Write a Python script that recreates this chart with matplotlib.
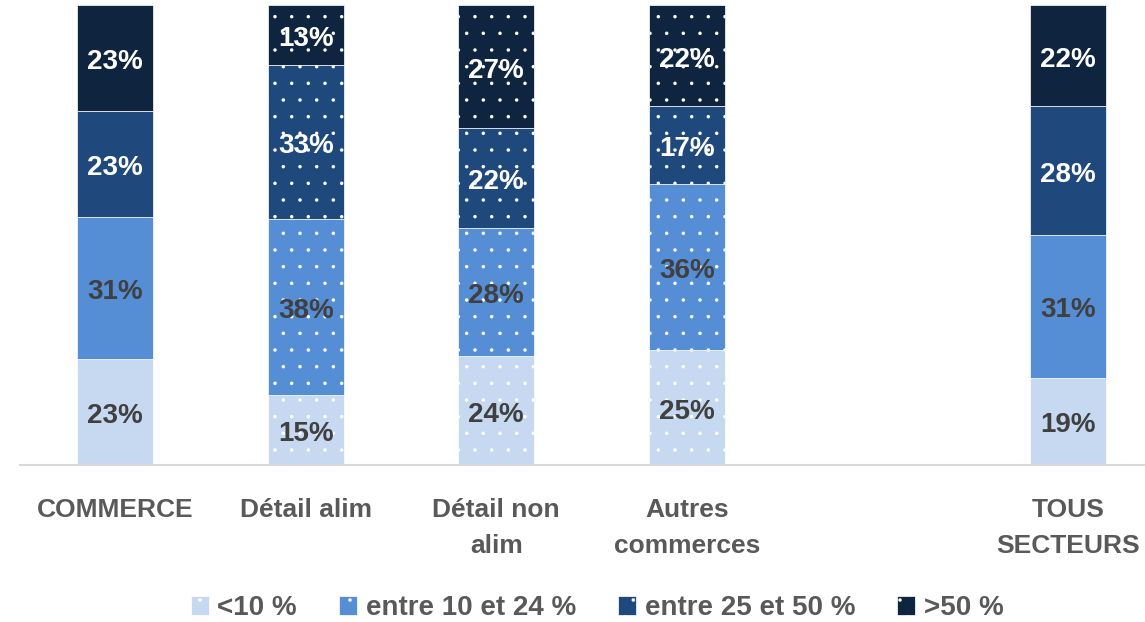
import matplotlib.pyplot as plt
import numpy as np
from matplotlib.patches import Patch

# Data
categories = ["COMMERCE", "Détail alim", "Détail non\nalim", "Autres\ncommerces", "", "TOUS\nSECTEURS"]
series_names = ["<10 %", "entre 10 et 24 %", "entre 25 et 50 %", ">50 %"]
lt10 = [23, 15, 24, 25, None, 19]
b10_24 = [31, 38, 28, 36, None, 31]
b25_50 = [23, 33, 22, 17, None, 28]
gt50 = [23, 13, 27, 22, None, 22]
dotted = [False, True, True, True, False, False]

colors = ["#C6D9F1", "#558ED5", "#1F497D", "#0F243E"]
label_colors = ["#404040", "#404040", "white", "white"]
FONT = "Liberation Sans"

plt.rcParams["font.family"] = [FONT, "DejaVu Sans"]
plt.rcParams["hatch.linewidth"] = 0.1

fig = plt.figure(figsize=(11.45, 6.22), dpi=100)
ax = fig.add_axes([20 / 1145, 157 / 622, 1143 / 1145, 460 / 622])

series = [lt10, b10_24, b25_50, gt50]
x = np.arange(len(categories))
width = 0.4

for i in range(len(categories)):
    vals = [s[i] for s in series]
    if vals[0] is None:
        continue
    total = sum(vals)
    bottom = 0.0
    for j, v in enumerate(vals):
        h = v / total * 100
        ax.bar(x[i], h, width, bottom=bottom, color=colors[j],
               edgecolor="white", linewidth=0.5,
               hatch="." if dotted[i] else None)
        ax.annotate(f"{v}%", (x[i], bottom + h / 2), xytext=(0, -3),
                    textcoords="offset points", ha="center", va="center",
                    fontsize=20, fontweight="bold", color=label_colors[j])
        bottom += h

ax.set_xlim(-0.5, 5.5)
ax.set_ylim(0, 100)
ax.set_yticks([])
ax.set_xticks(x)
ax.set_xticklabels(categories, fontsize=19, fontweight="bold", color="#595959",
                   linespacing=1.6)
ax.tick_params(axis="x", length=0, pad=24)
for s in ["top", "right", "left"]:
    ax.spines[s].set_visible(False)
ax.spines["bottom"].set_color("#D9D9D9")
ax.spines["bottom"].set_linewidth(1.5)

handles = [Patch(facecolor=colors[j], edgecolor="white", linewidth=0.5, hatch=".")
           for j in range(4)]
leg = fig.legend(handles, series_names, loc="center", bbox_to_anchor=(597 / 1145, 0.022),
                 ncol=4, frameon=False, handlelength=0.65, handleheight=0.65,
                 handletextpad=0.32, columnspacing=1.5,
                 prop={"family": FONT, "weight": "bold", "size": 20})
for t in leg.get_texts():
    t.set_color("#595959")

fig.savefig("out.png", dpi=100)
